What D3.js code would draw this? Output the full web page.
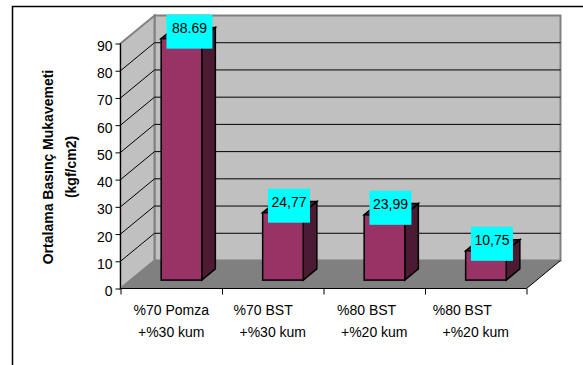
<!DOCTYPE html>
<html>
<head>
<meta charset="utf-8">
<script src="https://cdn.jsdelivr.net/npm/d3@7/dist/d3.min.js"></script>
<style>
  html, body { margin: 0; padding: 0; background: #fff; }
  svg { display: block; }
  text { font-family: "Liberation Sans", Arial, sans-serif; fill: #000; white-space: pre; }
</style>
</head>
<body>
<script>
// Compressive strength per mix, drawn as a 3-D column chart.
const categoryLine1 = ["%70 Pomza", "%70 BST     ", "%80 BST    ", "%80 BST       "];
const categoryLine2 = ["+%30 kum", "+%30 kum", "+%20 kum", "+%20 kum"];
const values = [88.69, 24.77, 23.99, 10.75];
const valueLabels = ["88.69", "24,77", "23,99", "10,75"];
const yTicks = [0, 10, 20, 30, 40, 50, 60, 70, 80, 90];
const titleLines = ["Ortalama Basınç Mukavemeti", "(kgf/cm2)"];

const W = 583, H = 365;
const plot = { left: 120.5, right: 526.5, top: 43.5, bottom: 288.5 };
const depth = { x: 34, y: 28 };      // how far the back wall sits behind the front plane
const barZ = [0.3, 0.7];             // column depth range within the floor

const svg = d3.select("body").append("svg").attr("width", W).attr("height", H);

const y = d3.scaleLinear().domain([0, 90]).range([plot.bottom, plot.top]);
const edges = d3.scaleLinear().domain([0, categoryLine1.length]).range([plot.left, plot.right]);
const x = d3.scaleBand().domain(d3.range(values.length)).range([plot.left, plot.right])
  .paddingInner(0.6).paddingOuter(0.3);

const pts = a => a.map(p => p.join(",")).join(" ");

// Chart frame: only the top and left edges fall inside the page
svg.append("path").attr("d", `M12.5,${H} V6.5 H${W}`)
  .attr("fill", "none").attr("stroke", "#000").attr("stroke-width", 1.5);

// Back wall, side wall and floor
const bx0 = plot.left + depth.x, bx1 = plot.right + depth.x;
const by0 = plot.top - depth.y, by1 = plot.bottom - depth.y;
svg.append("polygon").attr("points", pts([[bx0, by0], [bx1, by0], [bx1, by1], [bx0, by1]]))
  .attr("fill", "#c0c0c0").attr("stroke", "#808080").attr("stroke-width", 2);
svg.append("polygon").attr("points", pts([[plot.left, plot.top], [bx0, by0], [bx0, by1], [plot.left, plot.bottom]]))
  .attr("fill", "#c0c0c0").attr("stroke", "#808080").attr("stroke-width", 2);
svg.append("polygon").attr("points", pts([[plot.left, plot.bottom], [bx0, by1], [bx1, by1], [plot.right, plot.bottom]]))
  .attr("fill", "#808080");
svg.append("path").attr("d", `M${plot.right},${plot.bottom} L${bx1},${by1}`)
  .attr("stroke", "#000").attr("stroke-width", 1);

// Gridlines run across the side wall and along the back wall
const grid = yTicks.filter(t => t > 0 && t < 90);
svg.append("g").selectAll("path").data(grid).join("path")
  .attr("fill", "none").attr("stroke", "#000").attr("stroke-width", 1)
  .attr("d", t => `M${plot.left},${y(t)} L${bx0},${y(t) - depth.y} H${bx1}`);

// Columns
const bars = svg.append("g").selectAll("g").data(values).join("g")
  .attr("stroke", "#000").attr("stroke-width", 1.5).attr("stroke-linejoin", "miter");
const offX = z => depth.x * z, offY = z => depth.y * z;
bars.each(function (v, i) {
  const g = d3.select(this);
  const x0 = x(i) + offX(barZ[0]), x1 = x0 + x.bandwidth();
  const yb = y(0) - offY(barZ[0]), yt = y(v) - offY(barZ[0]);
  const dx = offX(barZ[1] - barZ[0]), dy = offY(barZ[1] - barZ[0]);
  g.append("polygon").attr("fill", "#4c1a33")
    .attr("points", pts([[x1, yt], [x1 + dx, yt - dy], [x1 + dx, yb - dy], [x1, yb]]));
  g.append("polygon").attr("fill", "#4c1a33")
    .attr("points", pts([[x0, yt], [x0 + dx, yt - dy], [x1 + dx, yt - dy], [x1, yt]]));
  g.append("rect").attr("fill", "#993366")
    .attr("x", x0).attr("y", yt).attr("width", x.bandwidth()).attr("height", yb - yt);
});

// Axes
const yAxis = svg.append("g").attr("transform", `translate(${plot.left},0)`)
  .call(d3.axisLeft(y).tickValues(yTicks).tickSize(5).tickPadding(3));
const xAxis = svg.append("g").attr("transform", `translate(0,${plot.bottom})`)
  .call(d3.axisBottom(edges).tickValues(d3.range(categoryLine1.length + 1)).tickSize(6).tickFormat(""));
for (const a of [yAxis, xAxis]) {
  a.selectAll("path").attr("d", null);
  a.selectAll("line").attr("stroke", "#000");
}
yAxis.append("line").attr("x1", 0).attr("x2", 0).attr("y1", plot.top).attr("y2", plot.bottom).attr("stroke", "#000");
xAxis.append("line").attr("x1", plot.left).attr("x2", plot.right).attr("y1", 0).attr("y2", 0).attr("stroke", "#000");
yAxis.selectAll("text").attr("font-size", 14).attr("font-family", null).attr("dy", "0.5em").style("fill", "#000");

// Category labels, two lines each
const cats = svg.append("g").attr("font-size", 14).attr("text-anchor", "middle");
categoryLine1.forEach((t, i) => {
  const cx = x(i) + x.bandwidth() / 2;
  cats.append("text").attr("x", cx).attr("y", 315).text(t);
  cats.append("text").attr("x", cx).attr("y", 337).text(categoryLine2[i]);
});

// Value labels on cyan boxes, hung above the back edge of each column
const boxW = i => i === 0 ? 46 : 42;
const tags = svg.append("g").selectAll("g").data(values).join("g")
  .attr("transform", (v, i) => `translate(${x(i) + x.bandwidth() / 2 + offX(barZ[0]) + (i === 0 ? 8 : 6)},${y(v) - offY(barZ[0]) - 24})`);
tags.append("rect").attr("x", (v, i) => -boxW(i) / 2).attr("y", 0)
  .attr("width", (v, i) => boxW(i)).attr("height", 34).attr("fill", "#00ffff");
tags.append("text").attr("text-anchor", "middle").attr("y", 18.5).attr("font-size", 14)
  .text((v, i) => valueLabels[i]);

// Rotated axis title
titleLines.forEach((t, i) => {
  svg.append("text")
    .attr("transform", `translate(${53 + i * 23},167) rotate(-90)`)
    .attr("text-anchor", "middle").attr("font-weight", "bold").attr("font-size", 14)
    .text(t);
});
</script>
</body>
</html>
